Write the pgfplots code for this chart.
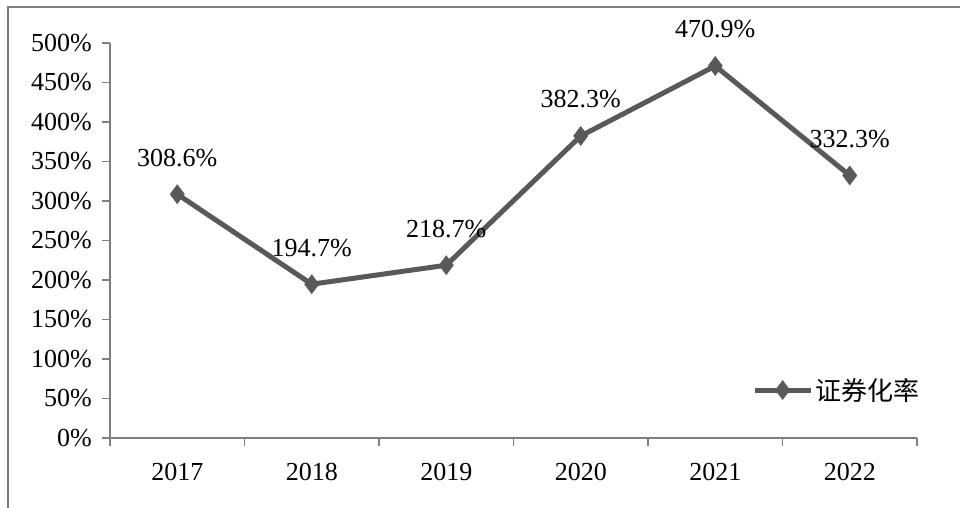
\documentclass[border=0pt]{standalone}
\usepackage{fontspec}
\setmainfont{Liberation Serif}
\newfontfamily\cjk{Noto Sans CJK SC}
\usepackage{pgfplots}
\pgfplotsset{compat=1.18}
\definecolor{lineg}{HTML}{595959}
\definecolor{axg}{HTML}{7F7F7F}
\begin{document}
\begin{tikzpicture}
  \useasboundingbox (0,0) rectangle (960pt,508pt);
  % frame of the chart area (only left and top edges are visible)
  \draw[axg, line width=1.5pt] (8pt,0pt) -- (8pt,501pt) -- (960pt,501pt);
  \begin{axis}[
    at={(110pt,70pt)}, anchor=south west,
    scale only axis,
    width=807pt, height=395pt,
    xmin=-0.5, xmax=5.5,
    ymin=0, ymax=500,
    axis x line=bottom, axis y line=left,
    axis line style={-, axg, line width=1.5pt},
    every tick/.style={axg, line width=1.5pt},
    tick align=outside,
    major tick length=8pt,
    xtick={-0.5,0.5,1.5,2.5,3.5,4.5,5.5},
    x tick label as interval,
    xticklabels={2017,2018,2019,2020,2021,2022},
    ytick={0,50,100,150,200,250,300,350,400,450,500},
    yticklabels={0\%,50\%,100\%,150\%,200\%,250\%,300\%,350\%,400\%,450\%,500\%},
    tick label style={font=\fontsize{26}{30}\selectfont},
    xticklabel style={anchor=base, yshift=-34pt},
    yticklabel style={anchor=east, inner sep=0pt, xshift=-10pt},
    clip=false,
    legend style={draw=none, fill=none, at={(0.7955,0.1215)}, anchor=west,
                  inner sep=0pt, font=\fontsize{26}{30}\selectfont\cjk},
    legend image code/.code={
      \draw[#1, mark=none] (0pt,0pt) -- (56pt,0pt);
      \draw[#1, only marks] plot coordinates {(28pt,0pt)};
    },
    nodes near coords,
    point meta=explicit symbolic,
    every node near coord/.style={font=\fontsize{26}{30}\selectfont, text=black,
                                  anchor=base, inner sep=0pt, yshift=28pt},
  ]
  \addplot[lineg, line width=5pt, mark=diamond*, mark size=9.5pt,
           mark options={fill=lineg, line width=0.5pt}]
    coordinates {
      (0,308.6) [308.6\%]
      (1,194.7) [194.7\%]
      (2,218.7) [218.7\%]
      (3,382.3) [382.3\%]
      (4,470.9) [470.9\%]
      (5,332.3) [332.3\%]
    };
  \addlegendentry{证券化率}
  \end{axis}
\end{tikzpicture}
\end{document}
